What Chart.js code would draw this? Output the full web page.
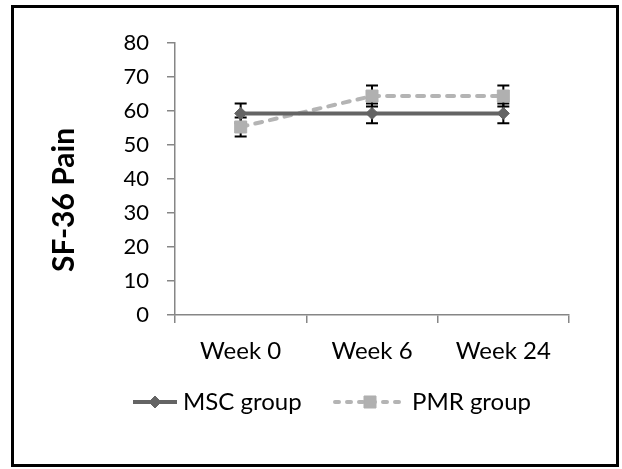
<!DOCTYPE html>
<html><head><meta charset="utf-8">
<script src="https://cdn.jsdelivr.net/npm/chart.js@4.4.1/dist/chart.umd.min.js"></script>
<style>html,body{margin:0;padding:0;background:#fff}#wrap{position:relative;width:622px;height:469px}</style>
</head><body><div id="wrap"><canvas id="c" width="622" height="469"></canvas></div>
<script>
const categories = ['Week 0', 'Week 6', 'Week 24'];
const seriesNames = ['MSC group', 'PMR group'];
const mscValues = [59.3, 59.3, 59.3];
const mscErrors = [2.9, 2.9, 2.9];
const pmrValues = [55.3, 64.4, 64.4];
const pmrErrors = [2.8, 3.1, 3.1];
const yTickValues = [0, 10, 20, 30, 40, 50, 60, 70, 80];
const yTitle = 'SF-36 Pain';

const FONT = 'Lato, "Open Sans", sans-serif';
const AXIS_GRAY = '#868686';

function drawMarker(ctx, style, x, y, r, color) {
  ctx.save();
  ctx.fillStyle = color; ctx.strokeStyle = color; ctx.lineWidth = 1;
  ctx.beginPath();
  if (style === 'rectRot') {
    ctx.moveTo(x - r, y); ctx.lineTo(x, y - r); ctx.lineTo(x + r, y); ctx.lineTo(x, y + r);
  } else {
    const s = r * Math.SQRT1_2;
    ctx.rect(x - s, y - s, 2 * s, 2 * s);
  }
  ctx.closePath(); ctx.fill(); ctx.stroke();
  ctx.restore();
}

const errorBars = {
  id: 'errorBars',
  beforeDatasetsDraw(chart) {
    const ctx = chart.ctx, ys = chart.scales.y;
    chart.data.datasets.forEach((ds, i) => {
      const meta = chart.getDatasetMeta(i);
      meta.data.forEach((pt, j) => {
        const v = ds.data[j], e = ds.errors[j];
        const t = ys.getPixelForValue(v + e), b = ys.getPixelForValue(v - e);
        ctx.save();
        ctx.strokeStyle = '#000'; ctx.lineWidth = 2;
        ctx.beginPath();
        ctx.moveTo(pt.x, t); ctx.lineTo(pt.x, b);
        ctx.moveTo(pt.x - 6, t); ctx.lineTo(pt.x + 6, t);
        ctx.moveTo(pt.x - 6, b); ctx.lineTo(pt.x + 6, b);
        ctx.stroke();
        ctx.restore();
      });
    });
  }
};

const decor = {
  id: 'decor',
  beforeDraw(chart) {
    const ctx = chart.ctx;
    ctx.save(); ctx.fillStyle = '#fff'; ctx.fillRect(0, 0, chart.width, chart.height); ctx.restore();
  },
  afterDraw(chart) {
    const ctx = chart.ctx;
    // y axis title
    ctx.save();
    ctx.translate(64, 200);
    ctx.rotate(-Math.PI / 2);
    ctx.font = 'bold 30px ' + FONT;
    ctx.fillStyle = '#000';
    ctx.textAlign = 'center'; ctx.textBaseline = 'middle';
    ctx.fillText(yTitle, 0, 0);
    ctx.restore();
    // legend
    const spots = [{x0: 133, x1: 177, tx: 183}, {x0: 335, x1: 405, tx: 412}];
    const ly = 402;
    chart.data.datasets.forEach((ds, i) => {
      const s = spots[i];
      ctx.save();
      ctx.strokeStyle = ds.borderColor; ctx.lineWidth = ds.borderWidth;
      ctx.lineCap = ds.borderCapStyle || 'butt';
      ctx.setLineDash(ds.legendDash || []);
      ctx.beginPath(); ctx.moveTo(s.x0, ly); ctx.lineTo(s.x1, ly); ctx.stroke();
      ctx.restore();
      drawMarker(ctx, ds.pointStyle, (s.x0 + s.x1) / 2, ly, ds.pointRadius, ds.pointBackgroundColor);
      ctx.save();
      ctx.font = '24px ' + FONT; ctx.fillStyle = '#000';
      ctx.textAlign = 'left'; ctx.textBaseline = 'middle';
      ctx.fillText(ds.label, s.tx, ly);
      ctx.restore();
    });
    // frame
    ctx.save(); ctx.strokeStyle = '#000'; ctx.lineWidth = 3;
    ctx.strokeRect(12.5, 6.5, 605, 459);
    ctx.restore();
  }
};

new Chart(document.getElementById('c'), {
  type: 'line',
  data: {
    labels: categories,
    datasets: [
      {
        label: seriesNames[0], data: mscValues, errors: mscErrors,
        borderColor: '#646464', backgroundColor: '#646464', borderWidth: 4,
        pointStyle: 'rectRot', pointRadius: 6, pointBackgroundColor: '#646464', pointBorderColor: '#646464', pointBorderWidth: 1,
        tension: 0, fill: false
      },
      {
        label: seriesNames[1], data: pmrValues, errors: pmrErrors,
        borderColor: '#b4b4b4', backgroundColor: '#b4b4b4', borderWidth: 4,
        borderDash: [7, 8], borderCapStyle: 'round', legendDash: [4, 8],
        pointStyle: 'rect', pointRadius: 8.5, pointBackgroundColor: '#b0b0b0', pointBorderColor: '#b0b0b0', pointBorderWidth: 1,
        tension: 0, fill: false
      }
    ]
  },
  options: {
    responsive: false, animation: false, devicePixelRatio: 1,
    layout: { padding: { left: 20, right: 53, top: 43, bottom: 94 } },
    plugins: { legend: { display: false }, tooltip: { enabled: false } },
    scales: {
      x: {
        offset: true,
        grid: { offset: true, drawOnChartArea: false, tickLength: 8, color: AXIS_GRAY, lineWidth: 1.5 },
        border: { color: AXIS_GRAY, width: 1.5 },
        ticks: { color: '#000', font: { family: FONT, size: 24 }, padding: 14, maxRotation: 0 },
        afterFit(s) { s.height = 60; }
      },
      y: {
        min: 0, max: 80,
        afterBuildTicks(s) { s.ticks = yTickValues.map(v => ({ value: v })); },
        grid: { drawOnChartArea: false, tickLength: 8, color: AXIS_GRAY, lineWidth: 1.5 },
        border: { color: AXIS_GRAY, width: 1.5 },
        ticks: { color: '#000', font: { family: FONT, size: 22 }, padding: 18 },
        afterFit(s) { s.width = 155; }
      }
    }
  },
  plugins: [errorBars, decor]
});
</script>
</body></html>
